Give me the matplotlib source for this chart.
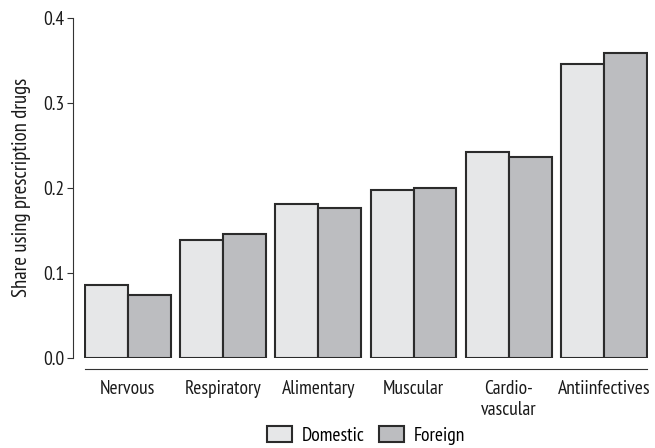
import numpy as np
import matplotlib
matplotlib.use("Agg")
import matplotlib.pyplot as plt

plt.rcParams['font.family'] = ['PT Sans Narrow', 'Roboto Condensed', 'DejaVu Sans']

categories = ["Nervous", "Respiratory", "Alimentary", "Muscular", "Cardio-\nvascular", "Antiinfectives"]
domestic = [0.086, 0.139, 0.181, 0.198, 0.242, 0.345]
foreign = [0.074, 0.146, 0.176, 0.200, 0.236, 0.359]
yticks = [0.0, 0.1, 0.2, 0.3, 0.4]

fig = plt.figure(figsize=(6.55, 4.48), dpi=100)
ax = fig.add_axes([0.1282, 0.2009, 0.8611, 0.7596])

x = np.arange(len(categories))
w = 0.45
ax.bar(x - w / 2, domestic, w, color='#e6e7e8', edgecolor='#2b2b2b', linewidth=1.5, label='Domestic')
ax.bar(x + w / 2, foreign, w, color='#bcbdc0', edgecolor='#2b2b2b', linewidth=1.5, label='Foreign')

ax.set_xlim(-0.46, len(categories) - 1 + 0.46)
ax.set_ylim(0, 0.4)
ax.set_yticks(yticks)
ax.set_yticklabels([f"{v:.1f}" for v in yticks])
ax.set_xticks(x)
ax.set_xticklabels(categories, linespacing=1.05)

for s in ['top', 'right']:
    ax.spines[s].set_visible(False)
ax.spines['left'].set_position(('outward', 8))
ax.spines['bottom'].set_position(('outward', 8))
ax.spines['left'].set_bounds(0, 0.4)
ax.spines['bottom'].set_bounds(-0.45, len(categories) - 1 + 0.45)
ax.spines['left'].set_color('#333333')
ax.spines['bottom'].set_color('#333333')

ax.tick_params(axis='y', length=4, color='#333333', labelsize=14, colors='#1a1a1a', pad=2)
ax.tick_params(axis='x', length=0, labelsize=14, colors='#1a1a1a', pad=8)
ax.set_ylabel("Share using prescription drugs", fontsize=15, color='#1a1a1a', labelpad=9)

ax.legend(loc='upper center', bbox_to_anchor=(0.5, -0.2), ncol=2, frameon=False,
          fontsize=14, handlelength=1.3, handleheight=0.9, columnspacing=0.7, handletextpad=0.5,
          borderaxespad=0, borderpad=0)

fig.savefig("out.png", dpi=100)
